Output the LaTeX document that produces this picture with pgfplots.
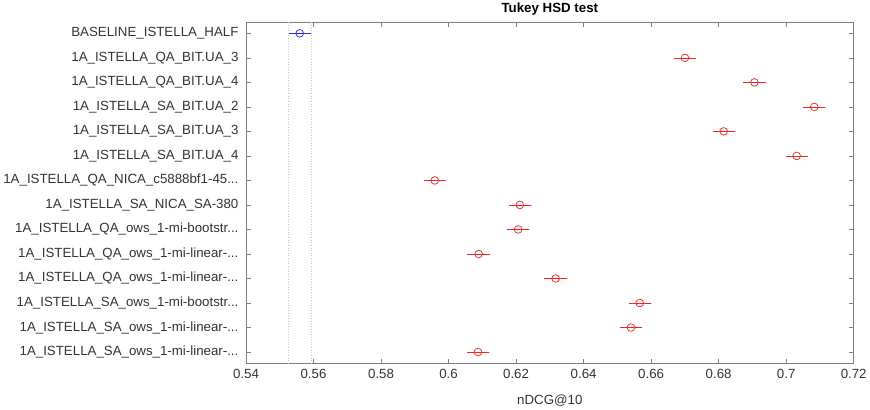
\documentclass[border=0pt]{standalone}
\usepackage{pgfplots}
\pgfplotsset{compat=1.18}
\usepackage{fontspec}
\setmainfont{Liberation Sans}
\definecolor{axisgray}{gray}{0.5}
\definecolor{labgray}{gray}{0.2}
\definecolor{mblue}{RGB}{40,40,230}
\definecolor{mred}{RGB}{255,30,30}
\DeclareRobustCommand{\tdots}{.\kern0pt.\kern0pt.}
\begin{document}
\begin{tikzpicture}
\begin{axis}[
  scale only axis,
  width=601bp, height=337bp,
  xmin=0.54, xmax=0.72,
  ymin=0.55, ymax=14.45,
  y dir=reverse,
  xtick={0.54,0.56,0.58,0.6,0.62,0.64,0.66,0.68,0.7,0.72},
  xticklabels={0.54,0.56,0.58,0.6,0.62,0.64,0.66,0.68,0.7,0.72},
  ytick={1,2,3,4,5,6,7,8,9,10,11,12,13,14},
  yticklabels={
    {BASELINE\_ISTELLA\_HALF},
    {1A\_ISTELLA\_QA\_BIT.UA\_3},
    {1A\_ISTELLA\_QA\_BIT.UA\_4},
    {1A\_ISTELLA\_SA\_BIT.UA\_2},
    {1A\_ISTELLA\_SA\_BIT.UA\_3},
    {1A\_ISTELLA\_SA\_BIT.UA\_4},
    {1A\_ISTELLA\_QA\_NICA\_c5888bf1-45\tdots},
    {1A\_ISTELLA\_SA\_NICA\_SA-380},
    {1A\_ISTELLA\_QA\_ows\_1-mi-bootstr\tdots},
    {1A\_ISTELLA\_QA\_ows\_1-mi-linear-\tdots},
    {1A\_ISTELLA\_QA\_ows\_1-mi-linear-\tdots},
    {1A\_ISTELLA\_SA\_ows\_1-mi-bootstr\tdots},
    {1A\_ISTELLA\_SA\_ows\_1-mi-linear-\tdots},
    {1A\_ISTELLA\_SA\_ows\_1-mi-linear-\tdots}},
  tick align=inside,
  major tick length=4.5bp,
  axis line style={axisgray, line width=0.7pt},
  every tick/.style={axisgray, line width=0.6pt},
  tick label style={labgray, font=\fontsize{13.2}{15}\selectfont},
  yticklabel style={xshift=-4bp},
  xticklabel style={yshift=-3bp},
  /pgf/number format/assume math mode=true,
  xlabel={nDCG@10},
  xlabel style={labgray, font=\fontsize{13.2}{15}\selectfont, yshift=-9bp},
  title={\textbf{Tukey HSD test}},
  title style={font=\fontsize{13.2}{15}\selectfont, yshift=-3bp},
  clip=false,
]
\addplot[gray!45, dotted, line width=0.6pt] coordinates {(0.5526,0.55) (0.5526,14.45)};
\addplot[gray!45, dotted, line width=0.6pt] coordinates {(0.5592,0.55) (0.5592,14.45)};
\addplot[color=mblue, line width=0.7pt, mark=o, mark size=3.8bp, only marks,
  error bars/x dir=both, error bars/x explicit, error bars/error mark=none,
  error bars/error bar style={draw=mblue, color=mblue, solid, line width=0.7pt}]
  coordinates {(0.5559,1) +- (0.0033,0)};
\addplot[color=mred, line width=0.7pt, mark=o, mark size=3.8bp, only marks,
  error bars/x dir=both, error bars/x explicit, error bars/error mark=none,
  error bars/error bar style={draw=mred, color=mred, solid, line width=0.7pt}]
  coordinates {
  (0.6700,2) +- (0.0033,0)
  (0.6906,3) +- (0.0033,0)
  (0.7083,4) +- (0.0033,0)
  (0.6815,5) +- (0.0033,0)
  (0.7031,6) +- (0.0033,0)
  (0.5959,7) +- (0.0033,0)
  (0.6211,8) +- (0.0033,0)
  (0.6206,9) +- (0.0033,0)
  (0.6089,10) +- (0.0033,0)
  (0.6317,11) +- (0.0033,0)
  (0.6566,12) +- (0.0033,0)
  (0.6540,13) +- (0.0033,0)
  (0.6087,14) +- (0.0033,0)
  };
\end{axis}
\end{tikzpicture}
\end{document}
